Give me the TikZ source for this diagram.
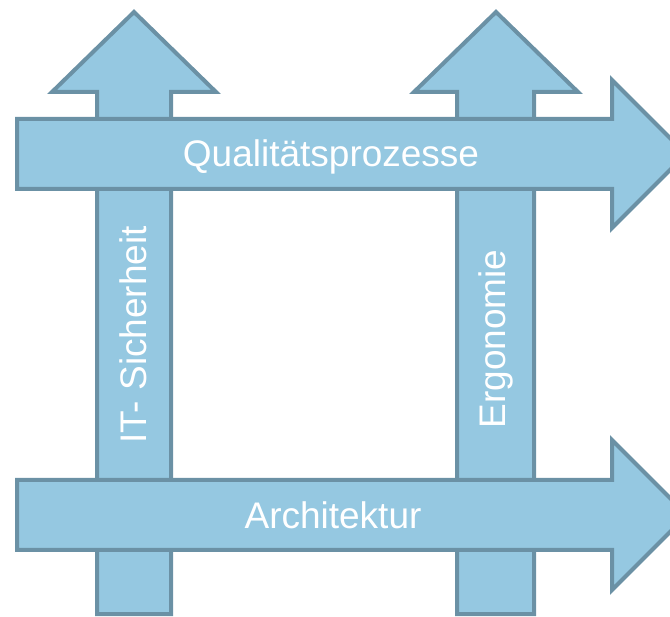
\documentclass[tikz,border=0pt]{standalone}
\usepackage{fontspec}
\setmainfont{Liberation Sans}
\definecolor{pfeilfill}{RGB}{149,200,225}
\definecolor{pfeilrand}{RGB}{107,145,165}
\tikzset{
	pfeil/.style={fill=pfeilfill, draw=pfeilrand, line width=4pt, line join=miter},
	beschriftung/.style={text=white, font=\fontsize{37}{44}\selectfont, inner sep=0pt}
}
\begin{document}
\begin{tikzpicture}[x=1pt,y=-1pt]
		\useasboundingbox (0,0) rectangle (670,617);
		\clip (0,0) rectangle (670,617);
		
		% senkrechte Pfeile
		\draw[pfeil] (97,614) -- (97,92) -- (52,92) -- (134,12) -- (216,92) -- (171,92) -- (171,614) -- cycle;
		\draw[pfeil] (457,614) -- (457,92) -- (414,92) -- (496,12) -- (578,92) -- (534,92) -- (534,614) -- cycle;
		
		% waagerechte Pfeile
		\draw[pfeil] (17,119) -- (612,119) -- (612,80) -- (686,154) -- (612,228) -- (612,189) -- (17,189) -- cycle;
		\draw[pfeil] (17,480) -- (612,480) -- (612,440) -- (687,515) -- (612,590) -- (612,550) -- (17,550) -- cycle;
		
		\node[beschriftung] (Q) at (331,157) {Qualitätsprozesse};
		\node[beschriftung] (A) at (333,515) {Architektur};
		\node[beschriftung, rotate=90] (S) at (133,335) {IT- Sicherheit};
		\node[beschriftung, rotate=90] (E) at (496,339) {Ergonomie};
		
	\end{tikzpicture}
\end{document}
